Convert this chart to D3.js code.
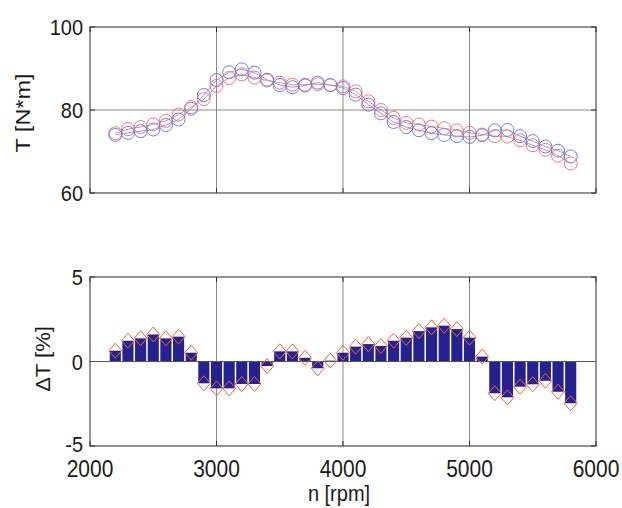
<!DOCTYPE html>
<html><head><meta charset="utf-8">
<script src="https://cdn.jsdelivr.net/npm/d3@7"></script>
<style>body{margin:0;background:#fff}svg{display:block}text{font-family:"Liberation Sans",Arial,sans-serif;fill:#1a1a1a}</style>
</head><body><svg id="c" width="622" height="508"></svg>
<script>
const rpm = [2200,2300,2400,2500,2600,2700,2800,2900,3000,3100,3200,3300,3400,3500,3600,3700,3800,3900,4000,4100,4200,4300,4400,4500,4600,4700,4800,4900,5000,5100,5200,5300,5400,5500,5600,5700,5800];
const torqueBlue = [74.0,74.5,74.9,75.3,76.4,77.7,80.3,83.6,87.2,89.1,89.8,89.0,87.3,86.0,85.5,85.9,86.6,86.0,85.3,83.7,81.3,79.2,77.1,75.9,75.1,74.4,74.0,73.7,73.5,73.9,75.1,75.2,73.7,72.5,71.2,70.2,68.8];
const torqueRed  = [74.4,75.4,75.9,76.5,77.4,78.9,80.7,82.6,85.8,87.7,88.6,87.8,87.1,86.6,86.1,86.1,86.2,86.0,85.7,84.5,82.1,80.0,78.1,76.9,76.5,76.0,75.6,75.1,74.5,74.1,73.7,73.6,72.7,71.5,70.4,69.0,67.1];
const deltaT = [0.64,1.23,1.37,1.60,1.37,1.47,0.52,-1.29,-1.59,-1.59,-1.33,-1.33,-0.27,0.60,0.60,0.22,-0.40,0.05,0.52,0.88,1.03,0.92,1.23,1.41,1.80,2.02,2.12,1.92,1.41,0.29,-1.88,-2.12,-1.49,-1.35,-1.14,-1.79,-2.47];
const xTicks = [2000,3000,4000,5000,6000];
const yTopTicks = [60,80,100];
const yBotTicks = [-5,0,5];

const svg = d3.select("#c");
const L = 90, R = 596;
const x = d3.scaleLinear().domain([2000,6000]).range([L,R]);
const yT = d3.scaleLinear().domain([60,100]).range([193,27]);
const yB = d3.scaleLinear().domain([-5,5]).range([446,277]);
const axCol = "#6b6461", gridCol = "#8a8a8a";
const SY = 1.12;

function label(px, py, txt, size, anchor, dy) {
  svg.append("text").attr("transform",`translate(${px},${py}) scale(1,${SY})`)
    .attr("text-anchor",anchor).attr("dy",dy).attr("font-size",size).text(txt);
}

function frame(y, ticks, top, bot) {
  const g = svg.append("g");
  xTicks.slice(1,-1).forEach(t => g.append("line").attr("x1",x(t)).attr("x2",x(t)).attr("y1",top).attr("y2",bot).attr("stroke",gridCol).attr("stroke-width",1));
  ticks.slice(1,-1).forEach(t => g.append("line").attr("x1",L).attr("x2",R).attr("y1",y(t)).attr("y2",y(t)).attr("stroke",gridCol).attr("stroke-width",1));
  g.append("rect").attr("x",L).attr("y",top).attr("width",R-L).attr("height",bot-top).attr("fill","none").attr("stroke",axCol).attr("stroke-width",1.4);
  xTicks.forEach(t => {
    g.append("line").attr("x1",x(t)).attr("x2",x(t)).attr("y1",bot).attr("y2",bot-5).attr("stroke","#333");
    g.append("line").attr("x1",x(t)).attr("x2",x(t)).attr("y1",top).attr("y2",top+5).attr("stroke","#333");
  });
  ticks.forEach(t => {
    g.append("line").attr("x1",L).attr("x2",L+5).attr("y1",y(t)).attr("y2",y(t)).attr("stroke","#333");
    g.append("line").attr("x1",R).attr("x2",R-5).attr("y1",y(t)).attr("y2",y(t)).attr("stroke","#333");
    label(L-7, y(t) - (t === -5 ? 2 : 0), t, 20, "end", "0.36em");
  });
  return g;
}

// top plot
frame(yT, yTopTicks, 27, 193);
const line = (arr) => d3.line().x((d,i)=>x(rpm[i])).y(d=>yT(d))(arr);
svg.append("path").attr("d",line(torqueBlue)).attr("fill","none").attr("stroke","#6f86e8").attr("stroke-width",0.8);
svg.append("path").attr("d",line(torqueRed)).attr("fill","none").attr("stroke","#f07070").attr("stroke-width",0.8);
svg.append("g").selectAll("circle").data(torqueRed).join("circle").attr("cx",(d,i)=>x(rpm[i])).attr("cy",d=>yT(d)).attr("r",6.5).attr("fill","none").attr("stroke","#f07a7a").attr("stroke-width",1);
svg.append("g").selectAll("circle").data(torqueBlue).join("circle").attr("cx",(d,i)=>x(rpm[i])).attr("cy",d=>yT(d)).attr("r",6.5).attr("fill","none").attr("stroke","#6f7fe0").attr("stroke-width",1);

// bottom plot
frame(yB, yBotTicks, 277, 446);
const bw = (x(2100)-x(2000))*0.88;
svg.append("g").selectAll("rect").data(deltaT).join("rect")
  .attr("x",(d,i)=>x(rpm[i])-bw/2).attr("width",bw)
  .attr("y",d=>yB(Math.max(0,d))).attr("height",d=>Math.abs(yB(d)-yB(0)))
  .attr("fill","#25228f");
svg.append("line").attr("x1",L).attr("x2",R).attr("y1",yB(0)).attr("y2",yB(0)).attr("stroke","#555").attr("stroke-width",1);
svg.append("g").selectAll("path").data(deltaT).join("path")
  .attr("d",(d,i)=>{const cx=x(rpm[i]), cy=yB(d); return `M${cx},${cy-7.5}L${cx+6.5},${cy}L${cx},${cy+7.5}L${cx-6.5},${cy}Z`;})
  .attr("fill","none").attr("stroke","#f2603e").attr("stroke-width",1);

// x tick labels
xTicks.forEach(t => label(x(t), 477, t, 21, "middle", 0));

// axis titles
svg.append("text").attr("transform","translate(30,113) rotate(-90) scale(1.12,1)").attr("text-anchor","middle").attr("font-size",21).text("T [N*m]");
svg.append("text").attr("transform","translate(50,359) rotate(-90) scale(1.05,1)").attr("text-anchor","middle").attr("font-size",21).text("ΔT [%]");
label(339, 501, "n [rpm]", 20, "middle", 0);
</script></body></html>
